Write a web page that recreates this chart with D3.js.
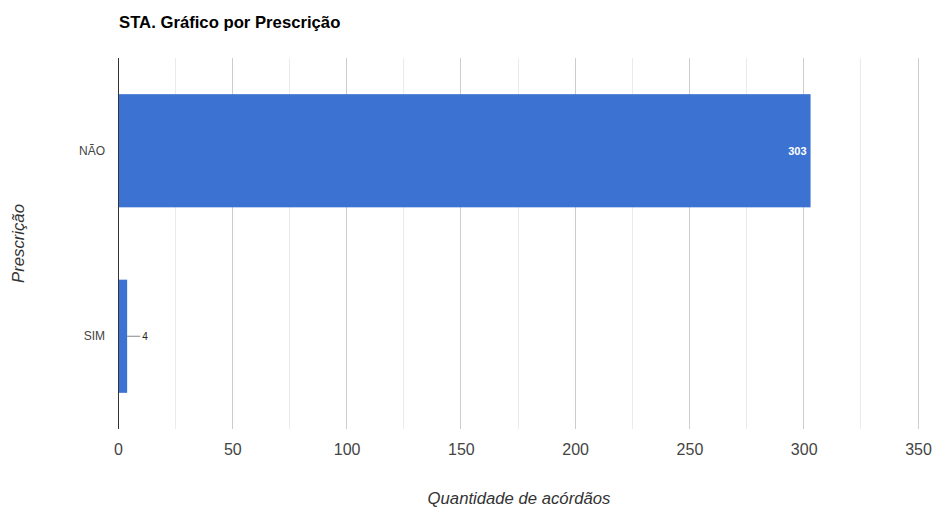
<!DOCTYPE html>
<html>
<head>
<meta charset="utf-8">
<script src="https://cdn.jsdelivr.net/npm/d3@7"></script>
<style>
  html, body { margin: 0; padding: 0; background: #fff; }
  svg { display: block; font-family: "Liberation Sans", Arial, sans-serif; }
</style>
</head>
<body>
<svg id="chart" width="936" height="509"></svg>
<script>
// Data
const categories = ["NÃO", "SIM"];
const values = [303, 4];
const xTicks = [0, 50, 100, 150, 200, 250, 300, 350];
const xMinorTicks = [25, 75, 125, 175, 225, 275, 325];
const titleText = "STA. Gráfico por Prescrição";
const xTitle = "Quantidade de acórdãos";
const yTitle = "Prescrição";

const svg = d3.select("#chart");
const margin = { left: 118, right: 18, top: 58, bottom: 80 };
const W = 936, H = 509;

const x = d3.scaleLinear().domain([0, 350]).range([margin.left, W - margin.right]);
const y = d3.scaleBand().domain(categories).range([margin.top, H - margin.bottom]).paddingInner(0.39).paddingOuter(0.195);

// Title
svg.append("text").attr("x", 119).attr("y", 28)
  .attr("font-size", 16.7).attr("font-weight", "bold").attr("fill", "#000")
  .text(titleText);

// Minor grid
svg.append("g").selectAll("line").data(xMinorTicks).join("line")
  .attr("x1", d => x(d)).attr("x2", d => x(d))
  .attr("y1", margin.top).attr("y2", H - margin.bottom)
  .attr("stroke", "#ebebeb").attr("stroke-width", 1).attr("shape-rendering", "crispEdges");

// Major grid
svg.append("g").selectAll("line").data(xTicks.filter(d => d > 0)).join("line")
  .attr("x1", d => x(d)).attr("x2", d => x(d))
  .attr("y1", margin.top).attr("y2", H - margin.bottom)
  .attr("stroke", "#cccccc").attr("stroke-width", 1).attr("shape-rendering", "crispEdges");

// X axis tick labels
const xAxis = d3.axisBottom(x).tickValues(xTicks).tickSize(0).tickPadding(0);
const gx = svg.append("g").attr("transform", `translate(0, ${H - margin.bottom + 15})`).call(xAxis);
gx.select(".domain").remove();
gx.selectAll("text").attr("font-size", 16).attr("fill", "#444")
  .attr("font-family", "Liberation Sans, Arial, sans-serif");

// Bars
svg.append("g").selectAll("rect").data(values).join("rect")
  .attr("x", x(0))
  .attr("y", (d, i) => y(categories[i]))
  .attr("width", d => x(d) - x(0))
  .attr("height", y.bandwidth())
  .attr("fill", "#3c73d2");

// Y axis category labels
const yAxis = d3.axisLeft(y).tickSize(0).tickPadding(13);
const gy = svg.append("g").attr("transform", `translate(${margin.left}, 0)`).call(yAxis);
gy.select(".domain").remove();
gy.selectAll("text").attr("font-size", 12).attr("fill", "#444")
  .attr("font-family", "Liberation Sans, Arial, sans-serif");

// Baseline at zero
svg.append("line")
  .attr("x1", x(0)).attr("x2", x(0))
  .attr("y1", margin.top).attr("y2", H - margin.bottom)
  .attr("stroke", "#333").attr("stroke-width", 1).attr("shape-rendering", "crispEdges");

// Value labels
values.forEach((v, i) => {
  const cy = y(categories[i]) + y.bandwidth() / 2;
  const xe = x(v);
  const inside = (xe - x(0)) > 40;
  if (inside) {
    svg.append("text").attr("x", xe - 4).attr("y", cy + 4)
      .attr("text-anchor", "end").attr("font-size", 11).attr("font-weight", "bold")
      .attr("fill", "#fff").text(v);
  } else {
    svg.append("line").attr("x1", xe).attr("x2", xe + 13)
      .attr("y1", cy).attr("y2", cy).attr("stroke", "#888").attr("stroke-width", 1);
    svg.append("text").attr("x", xe + 15).attr("y", cy + 4)
      .attr("font-size", 10).attr("fill", "#222").text(v);
  }
});

// Axis titles
svg.append("text").attr("x", x(175) + 1).attr("y", 504)
  .attr("text-anchor", "middle").attr("font-size", 16.7).attr("font-style", "italic")
  .attr("fill", "#333").text(xTitle);

svg.append("text")
  .attr("transform", `translate(24, ${(margin.top + H - margin.bottom) / 2}) rotate(-90)`)
  .attr("text-anchor", "middle").attr("font-size", 16.7).attr("font-style", "italic")
  .attr("fill", "#333").text(yTitle);
</script>
</body>
</html>
